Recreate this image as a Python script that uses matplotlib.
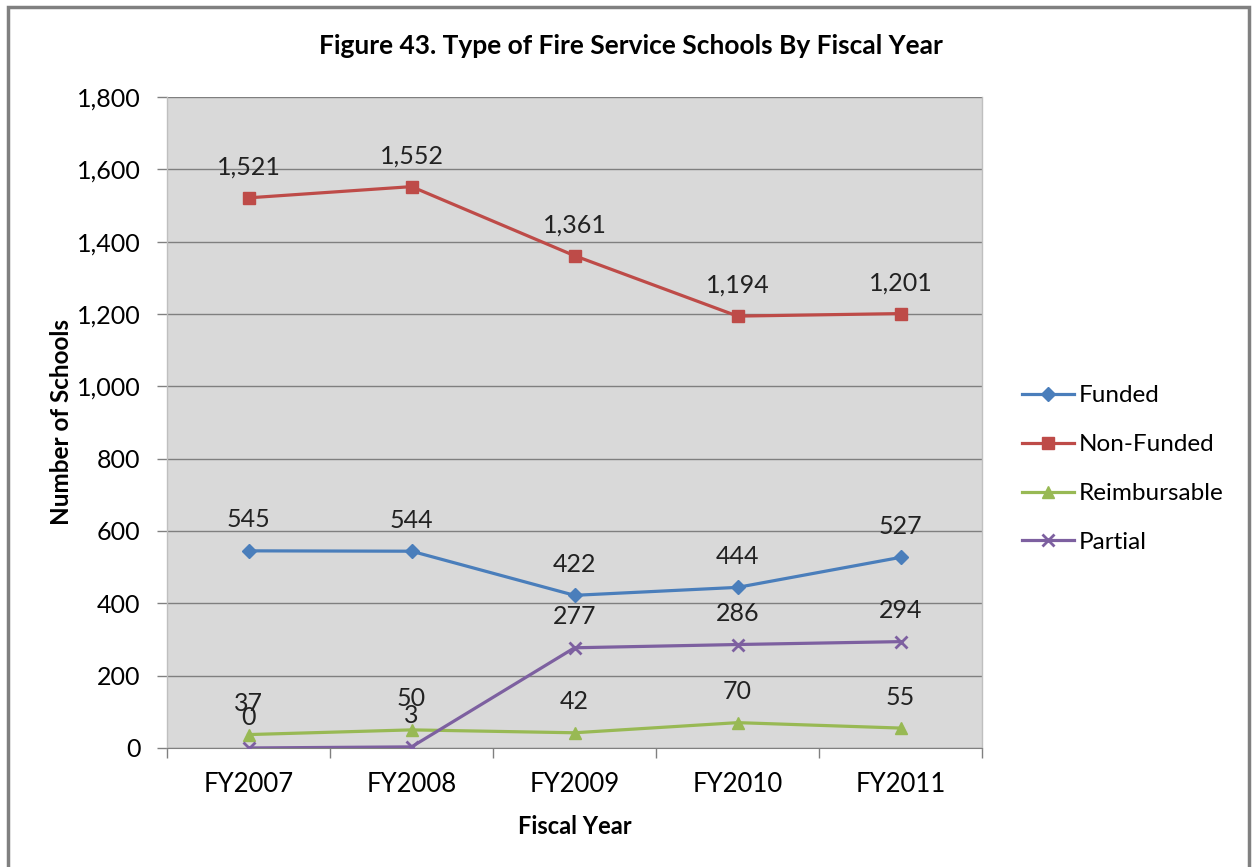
import numpy as np
import matplotlib.pyplot as plt
from matplotlib.patches import Rectangle

plt.rcParams['font.family'] = ['Lato', 'DejaVu Sans']

# Schools per fiscal year
years = ['FY2007', 'FY2008', 'FY2009', 'FY2010', 'FY2011']
funded = [545, 544, 422, 444, 527]
non_funded = [1521, 1552, 1361, 1194, 1201]
reimbursable = [37, 50, 42, 70, 55]
partial = [0, 3, 277, 286, 294]

series = [
    ('Funded', funded, '#4A7EBB', 'D', 7),
    ('Non-Funded', non_funded, '#BE4B48', 's', 9),
    ('Reimbursable', reimbursable, '#98B954', '^', 9),
    ('Partial', partial, '#7D60A0', 'x', 9),
]

fig = plt.figure(figsize=(12.52, 8.67), dpi=100)
ax = fig.add_axes([0.1334, 0.1373, 0.651, 0.7509])
ax.set_facecolor('#D9D9D9')

# outer chart border
fig.patches.append(Rectangle((0.0065, -0.05), 0.991, 1.042, transform=fig.transFigure,
                             fill=False, edgecolor='#808080', linewidth=2.5))

x = np.arange(len(years))
for name, vals, color, marker, ms in series:
    mew = 2 if marker == 'x' else 1
    ax.plot(x, vals, color=color, linewidth=2.3, marker=marker, markersize=ms,
            markeredgewidth=mew, label=name, zorder=3)
    for xi, v in zip(x, vals):
        ax.annotate(f'{v:,}', (xi, v), xytext=(0, 14), textcoords='offset points',
                    ha='center', va='bottom', fontsize=18, color='#222222')

ax.set_xlim(-0.5, len(years) - 0.5)
ax.set_ylim(0, 1800)
ax.set_yticks(np.arange(0, 1801, 200))
ax.yaxis.set_major_formatter(plt.FuncFormatter(lambda v, p: f'{int(v):,}'))
ax.set_xticks(x)
ax.set_xticklabels(years)
ax.set_xticks(np.arange(-0.5, len(years), 1), minor=True)
ax.tick_params(axis='x', which='major', length=0, pad=17, labelsize=18.5)
ax.tick_params(axis='x', which='minor', length=7, color='#808080', width=1)
ax.tick_params(axis='y', length=7, color='#808080', width=1, pad=12, labelsize=18)
ax.grid(axis='y', color='#7F7F7F', linewidth=1)
ax.set_axisbelow(True)
for side in ['left', 'right', 'top']:
    ax.spines[side].set_color('#BFBFBF')
    ax.spines[side].set_linewidth(1)
ax.spines['top'].set_visible(False)
ax.spines['bottom'].set_color('#808080')

# title is centred on the whole chart, not on the plot area
fig.text(0.504, 0.947, 'Figure 43. Type of Fire Service Schools By Fiscal Year',
         ha='center', va='center', fontsize=19, fontweight='bold')
ax.set_xlabel('Fiscal Year', fontsize=17, fontweight='bold', labelpad=13)
ax.set_ylabel('Number of Schools', fontsize=17.5, fontweight='bold', labelpad=3)

ax.legend(loc='center left', bbox_to_anchor=(0.8086, 0.459), bbox_transform=fig.transFigure,
          frameon=False, fontsize=17.5, handlelength=2.15, handletextpad=0.2,
          labelspacing=1.15, borderaxespad=0)

fig.savefig('out.png', dpi=100)
